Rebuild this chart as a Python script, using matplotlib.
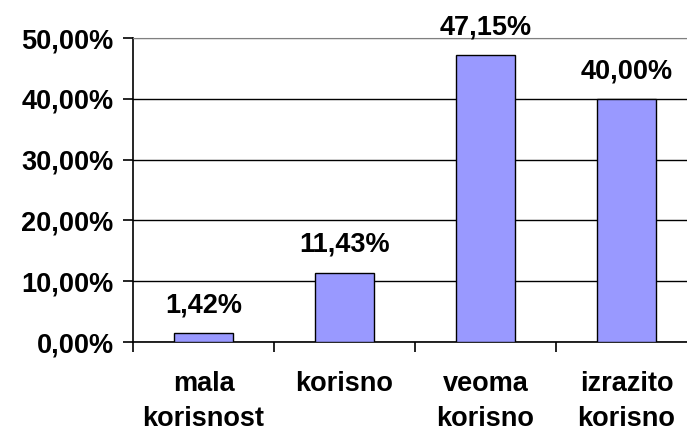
import numpy as np
import matplotlib.pyplot as plt

# %% Data
categories = ['mala\nkorisnost', 'korisno', 'veoma\nkorisno', 'izrazito\nkorisno']
values = [1.42, 11.43, 47.15, 40.00]
labels = ['1,42%', '11,43%', '47,15%', '40,00%']
yticks = [0, 10, 20, 30, 40, 50]
ytick_labels = ['0,00%', '10,00%', '20,00%', '30,00%', '40,00%', '50,00%']

# %% Plot
plt.rcParams['font.family'] = ['Liberation Sans', 'DejaVu Sans']
plt.rcParams['font.weight'] = 'bold'
fs = 19.5

fig = plt.figure(figsize=(6.87, 4.32), dpi=100)
ax = fig.add_axes([0.1936, 0.2083, 0.821, 0.7037])

x = np.arange(len(categories))
ax.bar(x, values, width=0.42, color='#9999FF', edgecolor='black', linewidth=1.0, zorder=3)

for xi, v, lab in zip(x, values, labels):
    ax.annotate(lab, (xi, v), xytext=(0, 10.5), textcoords='offset points',
                ha='center', va='bottom', fontsize=fs, fontweight='bold')

ax.set_xlim(-0.5, 3.5)
ax.set_ylim(0, 50)
ax.set_yticks(yticks)
ax.set_yticklabels(ytick_labels, fontsize=fs, fontweight='bold')
ax.yaxis.grid(True, color='black', linewidth=1.0, zorder=0)
ax.yaxis.get_gridlines()[-1].set_color('gray')
ax.set_axisbelow(True)

ax.set_xticks(x)
ax.set_xticklabels(categories, fontsize=fs, fontweight='bold', linespacing=1.45)
ax.set_xticks(np.arange(-0.5, 4, 1), minor=True)
ax.tick_params(axis='x', which='major', length=0, pad=21)
ax.tick_params(axis='x', which='minor', length=7, width=1.2, direction='out')
ax.tick_params(axis='y', length=7, width=1.2, direction='out', pad=7)

ax.spines['right'].set_visible(False)
ax.spines['top'].set_color('gray')
ax.spines['left'].set_linewidth(1.2)
ax.spines['bottom'].set_linewidth(1.2)

fig.savefig('out.png', dpi=100)
